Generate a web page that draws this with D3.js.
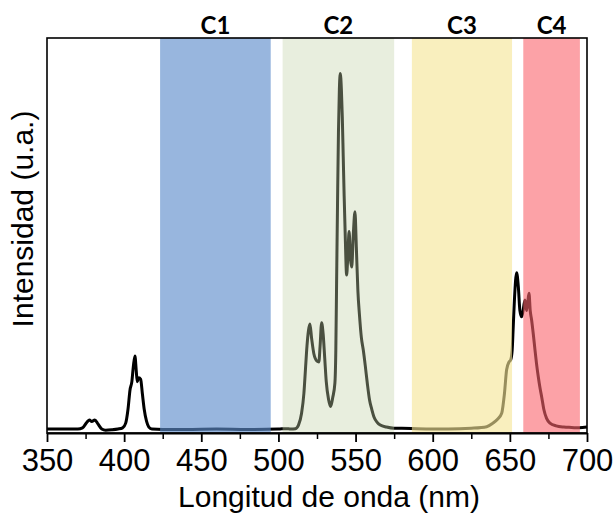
<!DOCTYPE html>
<html>
<head>
<meta charset="utf-8">
<script src="https://cdn.jsdelivr.net/npm/d3@7"></script>
<style>
  html, body { margin: 0; padding: 0; background: #fff; }
  svg { display: block; }
</style>
</head>
<body>
<svg id="chart" width="615" height="514"></svg>
<script>
// ---- data ----
const wavelength = [
  350, 360, 370, 373, 376, 377.5, 379, 381, 383, 385.5, 388, 392, 396, 399, 401, 402.5, 403.8, 405, 406, 407, 407.8, 408.5, 409.5, 410.7, 411.8, 413, 414.5, 416, 418,
  425, 440, 460, 480, 500, 505, 508, 511, 513, 515, 516.5, 517.5, 518.5, 519.5, 520.4, 521.5, 523, 525, 526.2, 527, 528, 529, 530, 531, 532.5, 533.8,
  535.2, 536.6, 537.2, 537.7, 538.3, 538.9, 539.5, 540.1, 540.8, 541.4, 542, 542.6, 543.3, 544.2, 545, 545.8, 546.7, 547.5, 548.5, 549.6, 550.5, 551.5,
  552.5, 553.8, 555, 556.3, 557.6, 559, 560.5, 562, 564, 566, 570, 575, 580, 590, 610, 625, 635, 639, 642, 644.7, 646.5, 647.9, 649.5, 650.5, 651.5,
  652.2, 653, 654.4, 655.5, 656.5, 657.6, 658.6, 659.8, 660.8, 661.6, 662.4, 663.2, 664.1, 665.2, 666.3, 667.3, 668.4, 669.5, 670.6, 672, 673.8, 676,
  680, 685, 690, 695, 700
];
const intensity = [
  1.0, 1.0, 1.0, 1.3, 2.8, 3.3, 2.9, 3.3, 2.3, 1.0, 0.7, 0.8, 1.0, 1.3, 2.5, 6, 10.9, 13, 17, 19.5, 16, 13, 14, 13.6, 10, 6, 3, 1.5, 1.0,
  0.9, 0.9, 1.0, 0.9, 1.0, 1.1, 1.0, 1.1, 2, 5, 10, 16, 22, 26, 27.6, 24, 20, 18.2, 18, 22, 27.9, 25, 19, 13, 8.5, 6.7,
  9, 12.6, 21, 38, 58, 76, 87, 91, 87, 80, 70, 60, 50, 40, 45, 51, 44, 42, 50, 56, 47, 36,
  30, 24, 21, 17, 12.6, 8.5, 6, 4, 2.7, 2, 1.5, 1.2, 1.2, 1.1, 1.0, 1.2, 1.6, 2.5, 3.5, 5, 10, 16, 18, 18.5, 21,
  27, 34, 40.6, 37, 31, 29.4, 31, 33.7, 31, 33, 35.4, 31, 28.6, 25, 21, 17.5, 14.3, 11.5, 9.2, 6, 3.7, 2.5,
  1.8, 1.5, 1.4, 1.3, 1.5
];
const bandLabels = ["C1", "C2", "C3", "C4"];
const bandStart = [423.3, 502.7, 586.5, 658.7];
const bandEnd = [495, 575, 651.4, 695.4];
const bandColors = ["rgb(94,141,203)", "rgb(195,210,168)", "rgb(246,229,150)", "rgb(250,100,108)"];
const bandOpacity = [0.64, 0.38, 0.62, 0.6];
const majorTicks = [350, 400, 450, 500, 550, 600, 650, 700];
const minorTicks = [375, 425, 475, 525, 575, 625, 675];
const xTitle = "Longitud de onda (nm)";
const yTitle = "Intensidad (u.a.)";

// ---- layout ----
const L = 47, R = 587, T = 38, B = 433;
const svg = d3.select("#chart");
const x = d3.scaleLinear().domain([350, 700]).range([L, R]);
const y = d3.scaleLinear().domain([0, 100]).range([B, T]);

const pts = wavelength.map((w, i) => [w, intensity[i]]);

// spectrum line
svg.append("path")
  .datum(pts)
  .attr("fill", "none")
  .attr("stroke", "#000")
  .attr("stroke-width", 3)
  .attr("stroke-linejoin", "round")
  .attr("d", d3.line().x(d => x(d[0])).y(d => y(d[1])).curve(d3.curveMonotoneX));

// bands on top
svg.append("g").selectAll("rect")
  .data(bandLabels)
  .join("rect")
  .attr("x", (d, i) => x(bandStart[i]))
  .attr("width", (d, i) => x(bandEnd[i]) - x(bandStart[i]))
  .attr("y", T)
  .attr("height", B - T)
  .attr("fill", (d, i) => bandColors[i])
  .attr("fill-opacity", (d, i) => bandOpacity[i]);

// band labels
svg.append("g").selectAll("text")
  .data(bandLabels)
  .join("text")
  .attr("x", (d, i) => x((bandStart[i] + bandEnd[i]) / 2))
  .attr("y", 34)
  .attr("text-anchor", "middle")
  .attr("font-family", "Lato, 'Open Sans', sans-serif")
  .attr("font-weight", "bold")
  .attr("font-size", 24)
  .attr("fill", "#000")
  .text(d => d);

// frame
svg.append("rect")
  .attr("x", L).attr("y", T)
  .attr("width", R - L).attr("height", B - T)
  .attr("fill", "none")
  .attr("stroke", "#000")
  .attr("stroke-width", 1.6);

// x axis
const ax = svg.append("g")
  .attr("transform", `translate(0,${B})`)
  .call(d3.axisBottom(x).tickValues(majorTicks).tickSize(9).tickSizeOuter(0).tickFormat(d3.format("d")));
ax.select(".domain").attr("stroke-width", 2);
ax.selectAll(".tick line").attr("stroke-width", 1.8);
ax.selectAll(".tick text")
  .attr("y", 38).attr("dy", 0)
  .attr("font-family", "'Liberation Sans', Arial, sans-serif")
  .attr("font-size", 31)
  .attr("fill", "#000");

svg.append("g")
  .attr("transform", `translate(0,${B})`)
  .call(d3.axisBottom(x).tickValues(minorTicks).tickSize(6).tickFormat(""))
  .call(g => g.select(".domain").remove())
  .selectAll(".tick line").attr("stroke-width", 1.5);

// axis titles
svg.append("text")
  .attr("x", 329).attr("y", 507)
  .attr("text-anchor", "middle")
  .attr("font-family", "'Liberation Sans', Arial, sans-serif")
  .attr("font-size", 30)
  .attr("fill", "#000")
  .text(xTitle);

svg.append("text")
  .attr("transform", "translate(33,219) rotate(-90)")
  .attr("text-anchor", "middle")
  .attr("font-family", "'Liberation Sans', Arial, sans-serif")
  .attr("font-size", 30)
  .attr("fill", "#000")
  .text(yTitle);
</script>
</body>
</html>
